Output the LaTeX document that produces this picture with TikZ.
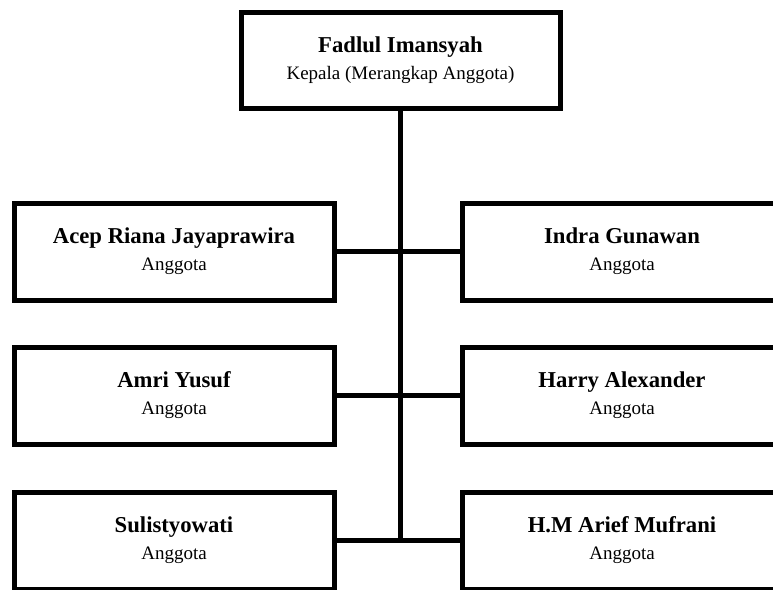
\documentclass[tikz,border=0pt]{standalone}
\usepackage{fontspec}
\setmainfont{Liberation Serif}

\begin{document}
\begin{tikzpicture}[x=1pt, y=-1pt,
  every node/.append style={draw, line width=5pt, align=center, inner sep=0pt,
    font=\fontsize{19}{27}\selectfont, text=black},
  kepala/.style={minimum width=319pt, minimum height=96pt},
  anggota/.style={minimum width=320pt, minimum height=97pt},
  garis/.style={draw, line width=4.5pt}]
\useasboundingbox (0,0) rectangle (773,589);
\clip (0,0) rectangle (773,589);
\newcommand{\nama}[1]{{\fontsize{22.7}{27}\selectfont\bfseries #1}}
\node[kepala] (fadlul) at (400.5,60) {\nama{Fadlul Imansyah}\\Kepala (Merangkap Anggota)};
% kiri
\node[anggota] (acep) at (174,251.5) {\nama{Acep Riana Jayaprawira}\\Anggota};
\node[anggota] (amri) at (174,395.5) {\nama{Amri Yusuf}\\Anggota};
\node[anggota] (sulis) at (174,540.5) {\nama{Sulistyowati}\\Anggota};
% kanan
\node[anggota] (indra) at (622,251.5) {\nama{Indra Gunawan}\\Anggota};
\node[anggota] (harry) at (622,395.5) {\nama{Harry Alexander}\\Anggota};
\node[anggota] (arief) at (622,540.5) {\nama{H.M Arief Mufrani}\\Anggota};
% garis
\draw[garis] (fadlul.south) -- (fadlul.south |- sulis.east);
\draw[garis] (acep.east) -- (indra.west);
\draw[garis] (amri.east) -- (harry.west);
\draw[garis] (sulis.east) -- (arief.west);
\end{tikzpicture}
\end{document}
